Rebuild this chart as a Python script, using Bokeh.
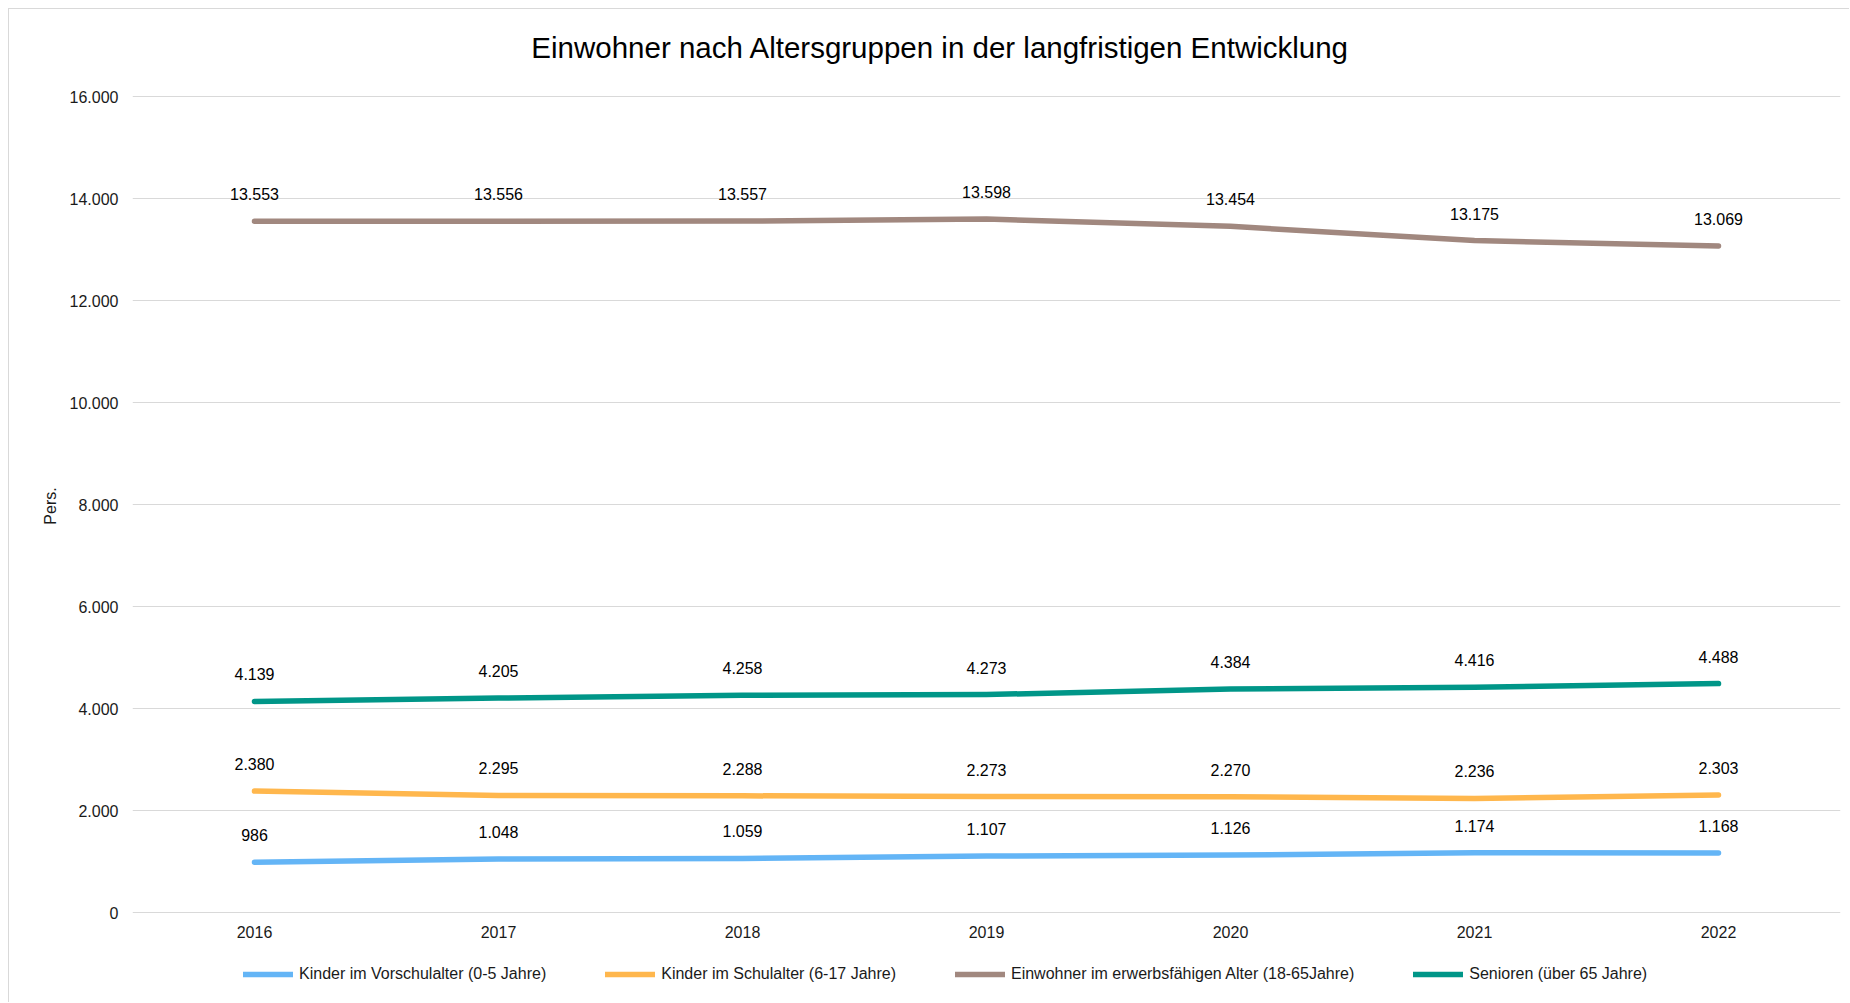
from bokeh.plotting import figure
from bokeh.models import FixedTicker, Legend, LegendItem, Range1d, FactorRange, Label
from bokeh.embed import file_html
from bokeh.resources import INLINE
from bokeh.core.properties import value

FONT = "Liberation Sans"

years = ["2016", "2017", "2018", "2019", "2020", "2021", "2022"]
vorschul = [986, 1048, 1059, 1107, 1126, 1174, 1168]
schul = [2380, 2295, 2288, 2273, 2270, 2236, 2303]
erwerb = [13553, 13556, 13557, 13598, 13454, 13175, 13069]
senioren = [4139, 4205, 4258, 4273, 4384, 4416, 4488]

series_names = [
    "Kinder im Vorschulalter (0-5 Jahre)",
    "Kinder im Schulalter (6-17 Jahre)",
    "Einwohner im erwerbsfähigen Alter (18-65Jahre)",
    "Senioren (über 65 Jahre)",
]
series_colors = ["#64B5F6", "#FFB74D", "#A1887F", "#009688"]

y_ticks = [0, 2000, 4000, 6000, 8000, 10000, 12000, 14000, 16000]
y_tick_labels = ["0", "2.000", "4.000", "6.000", "8.000", "10.000", "12.000", "14.000", "16.000"]

title_text = "Einwohner nach Altersgruppen in der langfristigen Entwicklung"
y_label = "Pers."


def fmt(v):
    return f"{v:,}".replace(",", ".")


# layout: value axis 0..max spans 816 px; the frame extends 87 px above and 90 px below
# so that title and legend can live inside it
AXIS_PX = 816
ABOVE_PX = 87
BELOW_PX = 90
y_min, y_max = y_ticks[0], y_ticks[-1]
px_per_unit = AXIS_PX / (y_max - y_min)
y_start = y_min - BELOW_PX / px_per_unit
y_end = y_max + ABOVE_PX / px_per_unit

p = figure(
    x_range=FactorRange(*years, range_padding=0),
    y_range=Range1d(y_start, y_end),
    frame_width=1708, frame_height=AXIS_PX + ABOVE_PX + BELOW_PX,
    output_backend="svg", toolbar_location=None,
    min_border_left=123, min_border_right=9, min_border_top=0, min_border_bottom=0,
)
p.styles = {"margin-left": "8px", "margin-top": "8px",
            "border-left": "1px solid #d9d9d9", "border-top": "1px solid #d9d9d9"}

p.outline_line_color = None
p.xgrid.grid_line_color = None
p.ygrid.grid_line_color = "#d9d9d9"
p.ygrid.grid_line_width = 1

p.yaxis.ticker = FixedTicker(ticks=y_ticks)
p.yaxis.major_label_overrides = {t: l for t, l in zip(y_ticks, y_tick_labels)}
for ax in (p.xaxis, p.yaxis):
    ax.axis_line_color = None
    ax.major_tick_line_color = None
    ax.minor_tick_line_color = None
    ax.major_label_text_font = FONT
    ax.major_label_text_font_size = "16px"
    ax.major_label_text_color = "#1a1a1a"
p.xaxis.fixed_location = y_min
p.yaxis.major_label_standoff = 8
p.xaxis.major_label_standoff = 7
p.yaxis.axis_label = y_label
p.yaxis.axis_label_text_font = FONT
p.yaxis.axis_label_text_font_size = "16px"
p.yaxis.axis_label_text_font_style = "normal"
p.yaxis.axis_label_text_color = "#1a1a1a"
p.yaxis.axis_label_standoff = 8

title = Label(x=len(years) / 2, y=y_max, x_offset=-46, y_offset=49, text=title_text,
              text_align="center", text_baseline="middle",
              text_font=FONT, text_font_size="29.5px", text_color="#000000")
p.add_layout(title)

items = []
for name, vals, col in zip(series_names, [vorschul, schul, erwerb, senioren], series_colors):
    r = p.line(x=years, y=vals, line_width=5.5, line_color=col, line_cap="round", line_join="round")
    p.text(x=years, y=vals, text=[fmt(v) for v in vals], y_offset=-27,
           text_align="center", text_baseline="middle",
           text_font=value(FONT), text_font_size="16px", text_color="#000000")
    items.append(LegendItem(label=name, renderers=[r]))

legend = Legend(items=items, orientation="horizontal", location=(111, 18),
                spacing=59, glyph_width=50, glyph_height=20, label_standoff=6,
                padding=0, margin=0, border_line_alpha=0, background_fill_alpha=0,
                label_text_font=FONT, label_text_font_size="16px", label_text_color="#1a1a1a")
p.add_layout(legend)

open("out.html", "w").write(file_html(p, INLINE))
